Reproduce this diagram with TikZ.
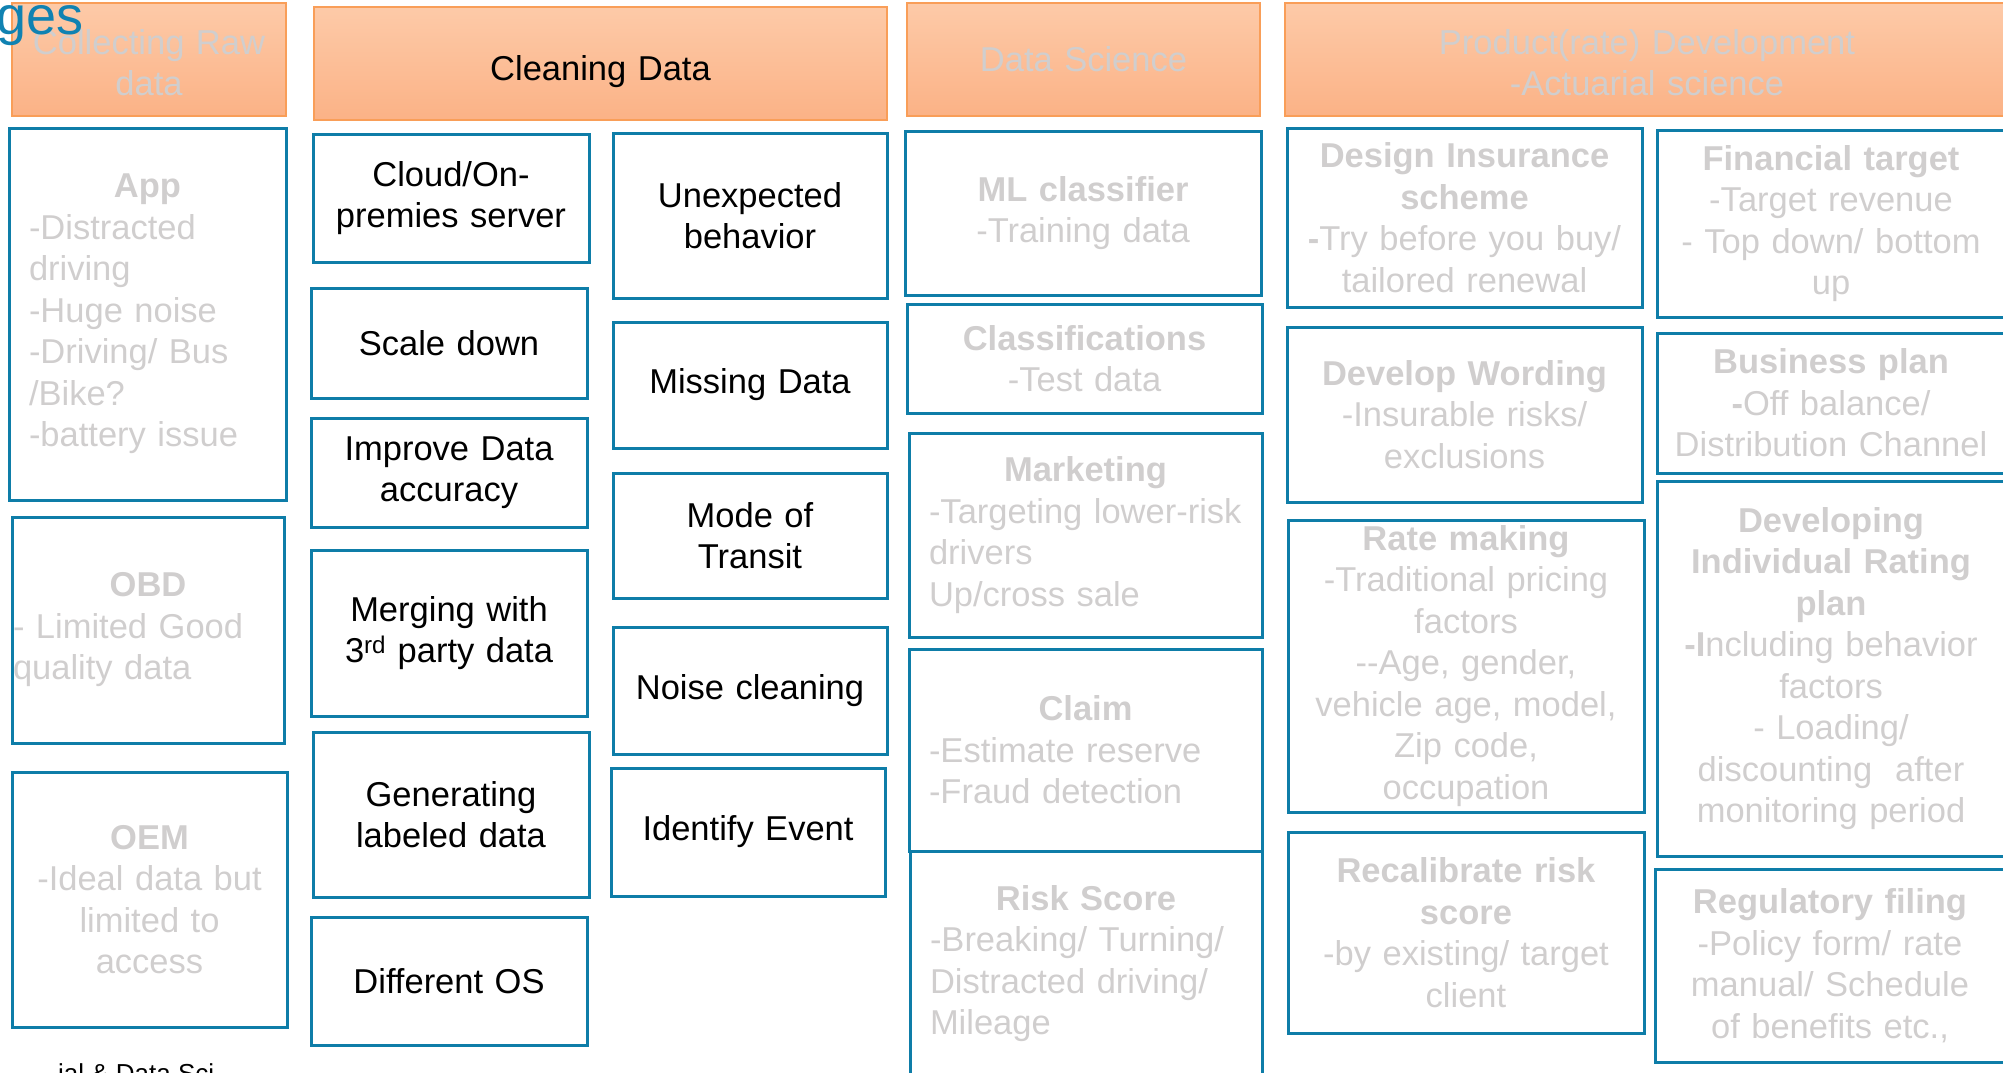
\documentclass[tikz,border=0pt]{standalone}
\usepackage{fontspec}
\setmainfont{Liberation Sans}

\definecolor{boxblue}{RGB}{14,125,168}
\definecolor{softgray}{RGB}{208,206,206}
\definecolor{headtop}{RGB}{253,202,168}
\definecolor{headbot}{RGB}{251,178,134}
\definecolor{headline}{RGB}{249,158,88}
\definecolor{titleteal}{RGB}{16,130,178}

\tikzset{
  bodyfont/.style={font=\fontsize{34.5}{41.5}\selectfont},
  cell/.style={draw=boxblue, line width=3pt, inner sep=0pt, bodyfont},
  stagehead/.style={draw=headline, line width=1.5pt, top color=headtop,
    bottom color=headbot, inner sep=0pt, bodyfont, align=center},
  dim/.style={text=softgray},
  ink/.style={text=black},
}

% \cell{name}{x1}{y1}{x2}{y2}{side margin}{style}{text}
\newcommand\cell[8]{%
  \pgfmathsetmacro\cellw{#4-#2}%
  \pgfmathsetmacro\cellh{#5-#3}%
  \pgfmathsetmacro\celltw{#4-#2-2*#6}%
  \node[minimum width=\cellw pt, minimum height=\cellh pt,
        text width=\celltw pt, #7] (#1) at ({(#2+#4)/2},{(#3+#5)/2}) {#8};}
\newcommand\midtitle[1]{\makebox[\hsize]{\textbf{#1}}}

\begin{document}
\begin{tikzpicture}[x=1pt, y=-1pt]
\useasboundingbox (0,0) rectangle (2003,1073);
\clip (0,0) rectangle (2003,1073);

% stage headers
\cell{hraw}{12}{3}{286}{116}{4}{stagehead, dim, text height=31pt}{Collecting Raw\\data}
\cell{hclean}{314}{7}{887}{120}{4}{stagehead, ink, text height=42pt}{Cleaning Data}
\cell{hds}{907}{3}{1260}{116}{4}{stagehead, dim}{Data Science}
\cell{hprod}{1285}{3}{2009}{116}{4}{stagehead, dim, text height=31pt}{Product(rate) Development\\-Actuarial science}

% raw data sources
\cell{app}{9}{128}{286}{500}{20}{cell, dim, align=left}{\midtitle{App}\\-Distracted\\driving\\-Huge noise\\-Driving/ Bus\\/Bike?\\-battery issue}
\cell{obd}{12}{517}{284}{743}{1}{cell, dim, align=left}{\midtitle{OBD}\\- Limited Good\\quality data}
\cell{oem}{12}{772}{287}{1027}{4}{cell, dim, align=center}{\textbf{OEM}\\-Ideal data but\\limited to\\access}

% cleaning steps
\cell{cloud}{313}{134}{589}{262}{4}{cell, ink, align=center}{Cloud/On-\\premies server}
\cell{scale}{311}{288}{587}{398}{4}{cell, ink, align=center}{Scale down}
\cell{improve}{311}{418}{587}{527}{4}{cell, ink, align=center}{Improve Data\\accuracy}
\cell{merge}{311}{550}{587}{716}{4}{cell, ink, align=center}{Merging with\\3\textsuperscript{rd} party data}
\cell{labeled}{313}{732}{589}{897}{4}{cell, ink, align=center}{Generating\\labeled data}
\cell{os}{311}{917}{587}{1045}{4}{cell, ink, align=center}{Different OS}
\cell{unexp}{613}{133}{887}{298}{4}{cell, ink, align=center}{Unexpected\\behavior}
\cell{missing}{613}{322}{887}{448}{4}{cell, ink, align=center}{Missing Data}
\cell{transit}{613}{473}{887}{598}{4}{cell, ink, align=center}{Mode of\\Transit}
\cell{noise}{613}{627}{887}{754}{4}{cell, ink, align=center}{Noise cleaning}
\cell{event}{611}{768}{885}{896}{4}{cell, ink, align=center}{Identify Event}

% data science uses
\cell{ml}{905}{131}{1261}{295}{4}{cell, dim, align=center}{\textbf{ML classifier}\\-Training data}
\cell{classes}{907}{304}{1262}{413}{4}{cell, dim, align=center}{\textbf{Classifications}\\-Test data}
\cell{mkt}{909}{433}{1262}{637}{20}{cell, dim, align=left}{\midtitle{Marketing}\\\mbox{-Targeting lower-risk}\\drivers\\Up/cross sale}
\cell{claim}{909}{649}{1262}{851}{20}{cell, dim, align=left}{\midtitle{Claim}\\-Estimate reserve\\-Fraud detection}
\cell{risk}{910}{851}{1262}{1076}{20}{cell, dim, align=left}{\midtitle{Risk Score}\\-Breaking/ Turning/\\Distracted driving/\\Mileage}

% product development
\cell{design}{1287}{128}{1642}{307}{4}{cell, dim, align=center}{\textbf{Design Insurance}\\\textbf{scheme}\\\textbf{-}Try before you buy/\\tailored renewal}
\cell{wording}{1287}{327}{1642}{502}{4}{cell, dim, align=center}{\textbf{Develop Wording}\\-Insurable risks/\\exclusions}
\cell{rate}{1288}{520}{1644}{812}{4}{cell, dim, align=center}{\textbf{Rate making}\\-Traditional pricing\\factors\\-{}-Age, gender,\\vehicle age, model,\\Zip code,\\occupation}
\cell{recal}{1288}{832}{1644}{1033}{4}{cell, dim, align=center}{\textbf{Recalibrate risk}\\\textbf{score}\\-by existing/ target\\client}
\cell{fin}{1657}{130}{2005}{317}{4}{cell, dim, align=center}{\textbf{Financial target}\\-Target revenue\\- Top down/ bottom\\up}
\cell{biz}{1657}{333}{2005}{473}{4}{cell, dim, align=center}{\textbf{Business plan}\\\textbf{-}Off balance/\\Distribution Channel}
\cell{indiv}{1657}{481}{2005}{856}{4}{cell, dim, align=center}{\textbf{Developing}\\\textbf{Individual Rating}\\\textbf{plan}\\\textbf{-I}ncluding behavior\\factors\\- Loading/\\discounting~ after\\monitoring period}
\cell{filing}{1655}{869}{2005}{1062}{4}{cell, dim, align=center}{\textbf{Regulatory filing}\\-Policy form/ rate\\manual/ Schedule\\of benefits etc.,}

% slide title and footer fragments
\node[font=\fontsize{54}{60}\selectfont, text=titleteal, anchor=base west, inner sep=0pt] (stagetitle) at (-4,35) {ges};
\node[font=\fontsize{26}{30}\selectfont, anchor=base west, inner sep=0pt] (footer) at (58,1082) {ial \& Data Sci};
\end{tikzpicture}
\end{document}
